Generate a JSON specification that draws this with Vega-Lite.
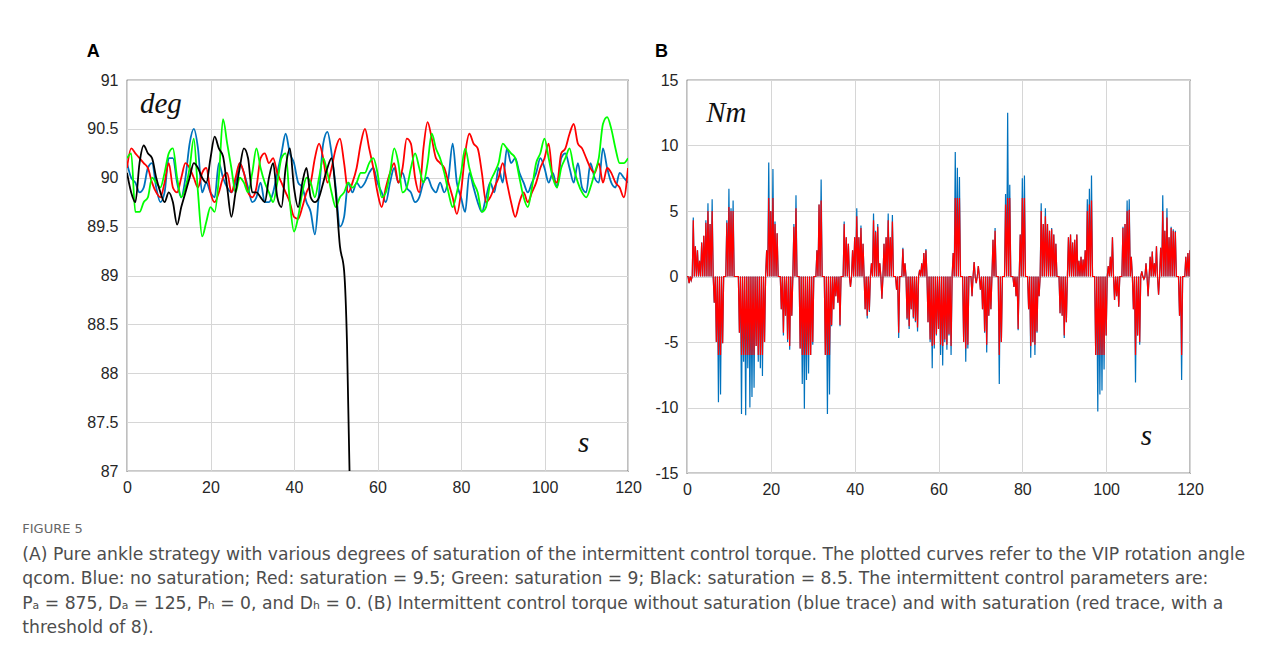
{
"$schema":"https://vega.github.io/schema/vega-lite/v6.json",
"background":"white",
"padding":{"left":22,"top":42,"right":40,"bottom":8},
"config":{
 "view":{"stroke":"#2b2b2b","strokeWidth":1.2},
 "axis":{"labelFont":"Liberation Sans","labelFontSize":16,"labelColor":"#262626","ticks":false,"domain":false,"gridColor":"#d6d6d6","gridWidth":1,"labelPadding":9,"labelFlush":false}
},
"datasets":{
"a":[
{"t":0,"blue":90.15,"red":90.1,"green":90.2,"black":90.05},
{"t":1,"blue":90.0,"red":90.3,"green":90.25,"black":89.85},
{"t":2,"blue":89.95,"red":90.25,"green":89.65,"black":89.75},
{"t":3,"blue":89.85,"red":90.2,"green":89.65,"black":90.15},
{"t":4,"blue":89.9,"red":90.15,"green":89.75,"black":90.33},
{"t":5,"blue":90.1,"red":90.1,"green":89.8,"black":90.25},
{"t":6,"blue":90.15,"red":89.95,"green":90.0,"black":90.2},
{"t":7,"blue":89.9,"red":89.85,"green":89.95,"black":90.0},
{"t":8,"blue":89.75,"red":89.8,"green":89.9,"black":89.85},
{"t":9,"blue":89.85,"red":89.95,"green":90.05,"black":89.75},
{"t":10,"blue":90.2,"red":90.15,"green":90.25,"black":89.85},
{"t":11,"blue":90.2,"red":89.9,"green":90.3,"black":89.75},
{"t":12,"blue":89.95,"red":89.85,"green":90.0,"black":89.52},
{"t":13,"blue":89.8,"red":90.0,"green":89.8,"black":89.7},
{"t":14,"blue":90.0,"red":90.15,"green":89.9,"black":89.85},
{"t":15,"blue":90.35,"red":90.1,"green":90.1,"black":90.0},
{"t":16,"blue":90.5,"red":90.0,"green":90.4,"black":90.15},
{"t":17,"blue":90.3,"red":89.9,"green":89.85,"black":90.1},
{"t":18,"blue":89.85,"red":90.05,"green":89.4,"black":90.0},
{"t":19,"blue":89.95,"red":90.1,"green":89.55,"black":89.95},
{"t":20,"blue":89.85,"red":89.85,"green":89.7,"black":90.2},
{"t":21,"blue":89.8,"red":89.75,"green":89.65,"black":90.42},
{"t":22,"blue":90.15,"red":89.85,"green":90.0,"black":90.3},
{"t":23,"blue":90.0,"red":90.0,"green":90.6,"black":90.22},
{"t":24,"blue":89.9,"red":90.05,"green":90.35,"black":89.9},
{"t":25,"blue":89.85,"red":89.85,"green":90.1,"black":89.6},
{"t":26,"blue":89.95,"red":90.0,"green":89.85,"black":89.85},
{"t":27,"blue":90.15,"red":90.15,"green":90.0,"black":90.1},
{"t":28,"blue":90.05,"red":90.05,"green":89.95,"black":90.3},
{"t":29,"blue":89.9,"red":89.85,"green":89.85,"black":90.2},
{"t":30,"blue":89.75,"red":89.8,"green":90.05,"black":89.85},
{"t":31,"blue":89.8,"red":89.9,"green":90.3,"black":89.85},
{"t":32,"blue":89.95,"red":90.2,"green":90.1,"black":89.8},
{"t":33,"blue":89.75,"red":90.25,"green":89.95,"black":89.75},
{"t":34,"blue":89.75,"red":90.15,"green":89.85,"black":90.0},
{"t":35,"blue":89.85,"red":90.2,"green":89.75,"black":90.15},
{"t":36,"blue":90.05,"red":90.05,"green":89.95,"black":89.8},
{"t":37,"blue":90.25,"red":89.95,"green":90.2,"black":89.7},
{"t":38,"blue":90.45,"red":89.85,"green":90.25,"black":90.1},
{"t":39,"blue":90.25,"red":89.75,"green":89.75,"black":90.3},
{"t":40,"blue":90.15,"red":89.6,"green":89.45,"black":89.9},
{"t":41,"blue":89.95,"red":89.58,"green":89.6,"black":89.7},
{"t":42,"blue":89.9,"red":89.7,"green":89.85,"black":89.95},
{"t":43,"blue":89.75,"red":89.85,"green":90.0,"black":90.1},
{"t":44,"blue":89.65,"red":89.95,"green":89.95,"black":89.8},
{"t":45,"blue":89.42,"red":90.2,"green":89.8,"black":89.75},
{"t":46,"blue":89.85,"red":90.35,"green":90.0,"black":89.8},
{"t":47,"blue":90.35,"red":90.2,"green":90.2,"black":89.95},
{"t":48,"blue":90.47,"red":89.95,"green":90.05,"black":90.1},
{"t":49,"blue":90.25,"red":90.1,"green":89.85,"black":90.2},
{"t":50,"blue":89.9,"red":90.3,"green":89.7,"black":89.85},
{"t":51,"blue":89.5,"red":90.4,"green":89.8,"black":89.3},
{"t":52,"blue":89.6,"red":90.15,"green":89.85,"black":89.05},
{"t":52.7,"black":88.3},
{"t":53,"blue":89.95,"red":89.85,"green":89.95},
{"t":53.3,"black":87.0},
{"t":53.6,"black":86.0},
{"t":54,"blue":89.85,"red":89.95,"green":89.9},
{"t":55,"blue":89.95,"red":90.1,"green":89.95},
{"t":56,"blue":89.9,"red":90.35,"green":90.05},
{"t":57,"blue":89.95,"red":90.5,"green":90.05},
{"t":58,"blue":90.05,"red":90.3,"green":90.15},
{"t":59,"blue":90.1,"red":90.1,"green":90.2},
{"t":60,"blue":89.95,"red":89.85,"green":90.05},
{"t":61,"blue":89.85,"red":89.7,"green":89.8},
{"t":62,"blue":89.75,"red":89.9,"green":89.85},
{"t":63,"blue":89.95,"red":90.05,"green":90.05},
{"t":64,"blue":90.1,"red":90.15,"green":90.3},
{"t":65,"blue":89.95,"red":89.95,"green":90.15},
{"t":66,"blue":90.05,"red":90.1,"green":89.85},
{"t":67,"blue":89.9,"red":90.4,"green":89.9},
{"t":68,"blue":89.85,"red":90.35,"green":90.1},
{"t":69,"blue":89.75,"red":90.0,"green":90.25},
{"t":70,"blue":89.8,"red":89.85,"green":90.1},
{"t":71,"blue":89.95,"red":90.3,"green":89.95},
{"t":72,"blue":90.0,"red":90.57,"green":90.15},
{"t":73,"blue":89.9,"red":90.4,"green":90.45},
{"t":74,"blue":89.85,"red":90.2,"green":90.3},
{"t":75,"blue":89.95,"red":90.15,"green":90.2},
{"t":76,"blue":89.85,"red":90.1,"green":90.05},
{"t":77,"blue":90.0,"red":89.95,"green":89.85},
{"t":78,"blue":90.35,"red":89.8,"green":89.7},
{"t":79,"blue":89.95,"red":89.63,"green":89.85},
{"t":80,"blue":89.8,"red":89.85,"green":90.05},
{"t":81,"blue":89.65,"red":90.25,"green":90.3},
{"t":82,"blue":90.05,"red":90.45,"green":90.1},
{"t":83,"blue":89.9,"red":90.35,"green":89.95},
{"t":84,"blue":89.75,"red":90.3,"green":89.85},
{"t":85,"blue":89.65,"red":90.05,"green":89.65},
{"t":86,"blue":89.8,"red":89.75,"green":89.7},
{"t":87,"blue":89.95,"red":89.8,"green":89.95},
{"t":88,"blue":89.85,"red":89.9,"green":90.05},
{"t":89,"blue":90.1,"red":90.0,"green":90.15},
{"t":90,"blue":89.95,"red":90.15,"green":90.35},
{"t":91,"blue":90.3,"red":89.95,"green":90.3},
{"t":92,"blue":90.15,"red":89.75,"green":90.25},
{"t":93,"blue":90.2,"red":89.6,"green":90.2},
{"t":94,"blue":90.05,"red":89.75,"green":90.0},
{"t":95,"blue":89.95,"red":89.85,"green":89.8},
{"t":96,"blue":89.85,"red":89.75,"green":89.7},
{"t":97,"blue":89.95,"red":89.85,"green":89.9},
{"t":98,"blue":90.05,"red":89.95,"green":90.15},
{"t":99,"blue":90.2,"red":90.1,"green":90.25},
{"t":100,"blue":90.1,"red":90.2,"green":90.4},
{"t":101,"blue":89.95,"red":90.35,"green":90.2},
{"t":102,"blue":90.05,"red":90.0,"green":90.0},
{"t":103,"blue":89.9,"red":89.95,"green":89.9},
{"t":104,"blue":90.2,"red":90.25,"green":90.1},
{"t":105,"blue":90.25,"red":90.3,"green":90.2},
{"t":106,"blue":90.1,"red":90.45,"green":90.3},
{"t":107,"blue":89.95,"red":90.55,"green":90.1},
{"t":108,"blue":90.15,"red":90.35,"green":89.95},
{"t":109,"blue":89.9,"red":90.3,"green":89.85},
{"t":110,"blue":89.85,"red":90.2,"green":89.8},
{"t":111,"blue":90.15,"red":90.1,"green":89.9},
{"t":112,"blue":90.0,"red":90.05,"green":90.05},
{"t":113,"blue":89.95,"red":90.15,"green":90.2},
{"t":114,"blue":90.3,"red":89.95,"green":90.55},
{"t":115,"blue":90.1,"red":90.1,"green":90.62},
{"t":116,"blue":89.95,"red":90.05,"green":90.5},
{"t":117,"blue":89.9,"red":89.95,"green":90.3},
{"t":118,"blue":90.05,"red":89.9,"green":90.15},
{"t":119,"blue":90.0,"red":89.8,"green":90.15},
{"t":120,"blue":89.95,"red":90.1,"green":90.2}
],
"b":[
{"t":0,"b":0,"r":0},{"t":0.25,"b":0,"r":0},
{"t":0.5,"b":-0.5,"r":-0.5},{"t":0.75,"b":0,"r":0},
{"t":1,"b":-0.3,"r":-0.3},{"t":1.25,"b":0,"r":0},
{"t":1.5,"b":4.5,"r":4.3},{"t":1.75,"b":0,"r":0},
{"t":2,"b":2.3,"r":2.3},{"t":2.25,"b":0,"r":0},
{"t":2.5,"b":2,"r":2},{"t":2.75,"b":0,"r":0},
{"t":3,"b":1.2,"r":1.2},{"t":3.25,"b":0,"r":0},
{"t":3.5,"b":2.6,"r":2.6},{"t":3.75,"b":0,"r":0},
{"t":4,"b":3.1,"r":3.1},{"t":4.25,"b":0,"r":0},
{"t":4.5,"b":4.3,"r":4.1},{"t":4.75,"b":0,"r":0},
{"t":5,"b":5.6,"r":5},{"t":5.25,"b":0,"r":0},
{"t":5.5,"b":4,"r":4},{"t":5.75,"b":0,"r":0},
{"t":6,"b":5.9,"r":5},{"t":6.25,"b":0,"r":0},
{"t":6.5,"b":-2,"r":-2},{"t":6.75,"b":0,"r":0},
{"t":7,"b":-5,"r":-5},{"t":7.25,"b":0,"r":0},
{"t":7.5,"b":-9.6,"r":-6},{"t":7.75,"b":0,"r":0},
{"t":8,"b":-9,"r":-6},{"t":8.25,"b":0,"r":0},
{"t":8.5,"b":-5.1,"r":-5.1},{"t":8.75,"b":0,"r":0},
{"t":9,"b":0,"r":0},{"t":9.25,"b":0,"r":0},
{"t":9.5,"b":4.3,"r":4.1},{"t":9.75,"b":0,"r":0},
{"t":10,"b":6.7,"r":5.3},{"t":10.25,"b":0,"r":0},
{"t":10.5,"b":5.2,"r":5},{"t":10.75,"b":0,"r":0},
{"t":11,"b":5.8,"r":5},{"t":11.25,"b":0,"r":0},
{"t":11.5,"b":0,"r":0},
{"t":12,"b":0,"r":0},{"t":12.25,"b":0,"r":0},
{"t":12.5,"b":-4.3,"r":-4.3},{"t":12.75,"b":0,"r":0},
{"t":13,"b":-10.5,"r":-6},{"t":13.25,"b":0,"r":0},
{"t":13.5,"b":-6.5,"r":-6},{"t":13.75,"b":0,"r":0},
{"t":14,"b":-10.6,"r":-6},{"t":14.25,"b":0,"r":0},
{"t":14.5,"b":-7,"r":-6},{"t":14.75,"b":0,"r":0},
{"t":15,"b":-10,"r":-6},{"t":15.25,"b":0,"r":0},
{"t":15.5,"b":-9.2,"r":-6},{"t":15.75,"b":0,"r":0},
{"t":16,"b":-8.5,"r":-6},{"t":16.25,"b":0,"r":0},
{"t":16.5,"b":-5.3,"r":-5.3},{"t":16.75,"b":0,"r":0},
{"t":17,"b":-6.5,"r":-6},{"t":17.25,"b":0,"r":0},
{"t":17.5,"b":-7,"r":-6},{"t":17.75,"b":0,"r":0},
{"t":18,"b":-7.6,"r":-6},{"t":18.25,"b":0,"r":0},
{"t":18.5,"b":-5,"r":-5},{"t":18.75,"b":0,"r":0},
{"t":19,"b":2,"r":2},{"t":19.25,"b":0,"r":0},
{"t":19.5,"b":8.7,"r":6},{"t":19.75,"b":0,"r":0},
{"t":20,"b":5,"r":5},{"t":20.25,"b":0,"r":0},
{"t":20.5,"b":8.2,"r":6},{"t":20.75,"b":0,"r":0},
{"t":21,"b":4.2,"r":4},{"t":21.25,"b":0,"r":0},
{"t":21.5,"b":3.3,"r":3.3},{"t":21.75,"b":0,"r":0},
{"t":22,"b":0,"r":0},{"t":22.25,"b":0,"r":0},
{"t":22.5,"b":-2.5,"r":-2.5},{"t":22.75,"b":0,"r":0},
{"t":23,"b":-4.5,"r":-4.3},{"t":23.25,"b":0,"r":0},
{"t":23.5,"b":-3,"r":-3},{"t":23.75,"b":0,"r":0},
{"t":24,"b":-5,"r":-4.8},{"t":24.25,"b":0,"r":0},
{"t":24.5,"b":-5.6,"r":-5.3},{"t":24.75,"b":0,"r":0},
{"t":25,"b":-3,"r":-3},{"t":25.25,"b":0,"r":0},
{"t":25.5,"b":4,"r":3.8},{"t":25.75,"b":0,"r":0},
{"t":26,"b":6.2,"r":5.2},{"t":26.25,"b":0,"r":0},
{"t":26.5,"b":0,"r":0},{"t":26.75,"b":0,"r":0},
{"t":27,"b":-5.5,"r":-5.5},{"t":27.25,"b":0,"r":0},
{"t":27.5,"b":-8.2,"r":-6},{"t":27.75,"b":0,"r":0},
{"t":28,"b":-10.1,"r":-6},{"t":28.25,"b":0,"r":0},
{"t":28.5,"b":-7.9,"r":-6},{"t":28.75,"b":0,"r":0},
{"t":29,"b":-7.4,"r":-6},{"t":29.25,"b":0,"r":0},
{"t":29.5,"b":-6,"r":-6},{"t":29.75,"b":0,"r":0},
{"t":30,"b":-5.2,"r":-5},{"t":30.25,"b":0,"r":0},
{"t":30.5,"b":0,"r":0},{"t":30.75,"b":0,"r":0},
{"t":31,"b":2,"r":2},{"t":31.25,"b":0,"r":0},
{"t":31.5,"b":5.5,"r":5.5},{"t":31.75,"b":0,"r":0},
{"t":32,"b":7.4,"r":5.8},{"t":32.25,"b":0,"r":0},
{"t":32.5,"b":0,"r":0},{"t":32.75,"b":0,"r":0},
{"t":33,"b":-6,"r":-6},{"t":33.25,"b":0,"r":0},
{"t":33.5,"b":-10.5,"r":-6},{"t":33.75,"b":0,"r":0},
{"t":34,"b":-9,"r":-6},{"t":34.25,"b":0,"r":0},
{"t":34.5,"b":-3.8,"r":-3.7},{"t":34.75,"b":0,"r":0},
{"t":35,"b":-2.5,"r":-2.5},{"t":35.25,"b":0,"r":0},
{"t":35.5,"b":-1.5,"r":-1.5},{"t":35.75,"b":0,"r":0},
{"t":36,"b":-2,"r":-2},{"t":36.25,"b":0,"r":0},
{"t":36.5,"b":-3.8,"r":-3.7},{"t":36.75,"b":0,"r":0},
{"t":37,"b":0,"r":0},{"t":37.25,"b":0,"r":0},
{"t":37.5,"b":4.2,"r":4},{"t":37.75,"b":0,"r":0},
{"t":38,"b":3,"r":3},{"t":38.25,"b":0,"r":0},
{"t":38.5,"b":2.5,"r":2.5},{"t":38.75,"b":0,"r":0},
{"t":39,"b":-0.8,"r":-0.8},{"t":39.25,"b":0,"r":0},
{"t":39.5,"b":2,"r":2},{"t":39.75,"b":0,"r":0},
{"t":40,"b":3,"r":3},{"t":40.25,"b":0,"r":0},
{"t":40.5,"b":5.2,"r":4.6},{"t":40.75,"b":0,"r":0},
{"t":41,"b":3,"r":3},{"t":41.25,"b":0,"r":0},
{"t":41.5,"b":3.9,"r":3.7},{"t":41.75,"b":0,"r":0},
{"t":42,"b":2.5,"r":2.5},{"t":42.25,"b":0,"r":0},
{"t":42.5,"b":-2.5,"r":-2.5},{"t":42.75,"b":0,"r":0},
{"t":43,"b":-3.2,"r":-3},{"t":43.25,"b":0,"r":0},
{"t":43.5,"b":-2.7,"r":-2.6},{"t":43.75,"b":0,"r":0},
{"t":44,"b":1,"r":1},{"t":44.25,"b":0,"r":0},
{"t":44.5,"b":4.8,"r":4.3},{"t":44.75,"b":0,"r":0},
{"t":45,"b":3.5,"r":3.4},{"t":45.25,"b":0,"r":0},
{"t":45.5,"b":4,"r":3.8},{"t":45.75,"b":0,"r":0},
{"t":46,"b":1,"r":1},{"t":46.25,"b":0,"r":0},
{"t":46.5,"b":-1.7,"r":-1.7},{"t":46.75,"b":0,"r":0},
{"t":47,"b":2.5,"r":2.5},{"t":47.25,"b":0,"r":0},
{"t":47.5,"b":3,"r":3},{"t":47.75,"b":0,"r":0},
{"t":48,"b":4.8,"r":4.3},{"t":48.25,"b":0,"r":0},
{"t":48.5,"b":3,"r":3},{"t":48.75,"b":0,"r":0},
{"t":49,"b":4.7,"r":4.2},{"t":49.25,"b":0,"r":0},
{"t":49.5,"b":0,"r":0},{"t":49.75,"b":0,"r":0},
{"t":50,"b":-1,"r":-1},{"t":50.25,"b":0,"r":0},
{"t":50.5,"b":-4.7,"r":-4.3},{"t":50.75,"b":0,"r":0},
{"t":51,"b":0,"r":0},{"t":51.25,"b":0,"r":0},
{"t":51.5,"b":2.2,"r":2.1},{"t":51.75,"b":0,"r":0},
{"t":52,"b":1,"r":1},{"t":52.25,"b":0,"r":0},
{"t":52.5,"b":-3.3,"r":-3.2},{"t":52.75,"b":0,"r":0},
{"t":53,"b":-4,"r":-3.8},{"t":53.25,"b":0,"r":0},
{"t":53.5,"b":-2.5,"r":-2.5},{"t":53.75,"b":0,"r":0},
{"t":54,"b":-3.2,"r":-3.1},{"t":54.25,"b":0,"r":0},
{"t":54.5,"b":-3.5,"r":-3.4},{"t":54.75,"b":0,"r":0},
{"t":55,"b":-4.2,"r":-3.9},{"t":55.25,"b":0,"r":0},
{"t":55.5,"b":0.5,"r":0.5},{"t":55.75,"b":0,"r":0},
{"t":56,"b":1,"r":1},{"t":56.25,"b":0,"r":0},
{"t":56.5,"b":1.8,"r":1.8},{"t":56.75,"b":0,"r":0},
{"t":57,"b":2.1,"r":2},{"t":57.25,"b":0,"r":0},
{"t":57.5,"b":-3.5,"r":-3.5},{"t":57.75,"b":0,"r":0},
{"t":58,"b":-5,"r":-4.8},{"t":58.25,"b":0,"r":0},
{"t":58.5,"b":-7,"r":-5.3},{"t":58.75,"b":0,"r":0},
{"t":59,"b":-5.5,"r":-5.2},{"t":59.25,"b":0,"r":0},
{"t":59.5,"b":-4.5,"r":-4.4},{"t":59.75,"b":0,"r":0},
{"t":60,"b":-4,"r":-4},{"t":60.25,"b":0,"r":0},
{"t":60.5,"b":-6,"r":-5.2},{"t":60.75,"b":0,"r":0},
{"t":61,"b":-6.8,"r":-5.3},{"t":61.25,"b":0,"r":0},
{"t":61.5,"b":-5,"r":-4.8},{"t":61.75,"b":0,"r":0},
{"t":62,"b":-5.6,"r":-5.2},{"t":62.25,"b":0,"r":0},
{"t":62.5,"b":-4.5,"r":-4.4},{"t":62.75,"b":0,"r":0},
{"t":63,"b":-6,"r":-5.3},{"t":63.25,"b":0,"r":0},
{"t":63.5,"b":1.8,"r":1.8},{"t":63.75,"b":0,"r":0},
{"t":64,"b":9.5,"r":6},{"t":64.25,"b":0,"r":0},
{"t":64.5,"b":8.3,"r":6},{"t":64.75,"b":0,"r":0},
{"t":65,"b":7.6,"r":6},{"t":65.25,"b":0,"r":0},
{"t":65.5,"b":0,"r":0},{"t":65.75,"b":0,"r":0},
{"t":66,"b":-5,"r":-5},{"t":66.25,"b":0,"r":0},
{"t":66.5,"b":-6.5,"r":-5.5},{"t":66.75,"b":0,"r":0},
{"t":67,"b":-5.5,"r":-5.2},{"t":67.25,"b":0,"r":0},
{"t":67.5,"b":0,"r":0},{"t":67.75,"b":0,"r":0},
{"t":68,"b":-1.5,"r":-1.5},{"t":68.25,"b":0,"r":0},
{"t":68.5,"b":1.1,"r":1.1},{"t":68.75,"b":0,"r":0},
{"t":69,"b":-0.5,"r":-0.5},{"t":69.25,"b":0,"r":0},
{"t":69.5,"b":0.8,"r":0.8},{"t":69.75,"b":0,"r":0},
{"t":70,"b":-1,"r":-1},{"t":70.25,"b":0,"r":0},
{"t":70.5,"b":-2.5,"r":-2.5},{"t":70.75,"b":0,"r":0},
{"t":71,"b":-4.3,"r":-4.2},{"t":71.25,"b":0,"r":0},
{"t":71.5,"b":-5.8,"r":-5.2},{"t":71.75,"b":0,"r":0},
{"t":72,"b":-3,"r":-3},{"t":72.25,"b":0,"r":0},
{"t":72.5,"b":-2.5,"r":-2.5},{"t":72.75,"b":0,"r":0},
{"t":73,"b":2.8,"r":2.8},{"t":73.25,"b":0,"r":0},
{"t":73.5,"b":3.7,"r":3.5},{"t":73.75,"b":0,"r":0},
{"t":74,"b":0,"r":0},{"t":74.25,"b":0,"r":0},
{"t":74.5,"b":-8.2,"r":-6},{"t":74.75,"b":0,"r":0},
{"t":75,"b":-5,"r":-5},{"t":75.25,"b":0,"r":0},
{"t":75.5,"b":0,"r":0},{"t":75.75,"b":0,"r":0},
{"t":76,"b":6.3,"r":5.5},{"t":76.25,"b":0,"r":0},
{"t":76.5,"b":12.5,"r":6},{"t":76.75,"b":0,"r":0},
{"t":77,"b":7,"r":6},{"t":77.25,"b":0,"r":0},
{"t":77.5,"b":0,"r":0},{"t":77.75,"b":0,"r":0},
{"t":78,"b":-0.8,"r":-0.8},{"t":78.25,"b":0,"r":0},
{"t":78.5,"b":-1.5,"r":-1.5},{"t":78.75,"b":0,"r":0},
{"t":79,"b":-4.1,"r":-4},{"t":79.25,"b":0,"r":0},
{"t":79.5,"b":3.2,"r":3.2},{"t":79.75,"b":0,"r":0},
{"t":80,"b":7.5,"r":6},{"t":80.25,"b":0,"r":0},
{"t":80.5,"b":7.7,"r":6},{"t":80.75,"b":0,"r":0},
{"t":81,"b":0,"r":0},{"t":81.25,"b":0,"r":0},
{"t":81.5,"b":-2.5,"r":-2.5},{"t":81.75,"b":0,"r":0},
{"t":82,"b":-6.2,"r":-5.3},{"t":82.25,"b":0,"r":0},
{"t":82.5,"b":-5,"r":-5},{"t":82.75,"b":0,"r":0},
{"t":83,"b":-6,"r":-5.2},{"t":83.25,"b":0,"r":0},
{"t":83.5,"b":-4.3,"r":-4.2},{"t":83.75,"b":0,"r":0},
{"t":84,"b":-1.5,"r":-1.5},{"t":84.25,"b":0,"r":0},
{"t":84.5,"b":5.6,"r":5},{"t":84.75,"b":0,"r":0},
{"t":85,"b":4,"r":4},{"t":85.25,"b":0,"r":0},
{"t":85.5,"b":5.2,"r":4.6},{"t":85.75,"b":0,"r":0},
{"t":86,"b":4,"r":4},{"t":86.25,"b":0,"r":0},
{"t":86.5,"b":3.5,"r":3.5},{"t":86.75,"b":0,"r":0},
{"t":87,"b":3.7,"r":3.6},{"t":87.25,"b":0,"r":0},
{"t":87.5,"b":3.2,"r":3.2},{"t":87.75,"b":0,"r":0},
{"t":88,"b":2.5,"r":2.5},{"t":88.25,"b":0,"r":0},
{"t":88.5,"b":0,"r":0},{"t":88.75,"b":0,"r":0},
{"t":89,"b":-2.8,"r":-2.8},{"t":89.25,"b":0,"r":0},
{"t":89.5,"b":-3,"r":-3},{"t":89.75,"b":0,"r":0},
{"t":90,"b":-4.7,"r":-4.5},{"t":90.25,"b":0,"r":0},
{"t":90.5,"b":-3.5,"r":-3.5},{"t":90.75,"b":0,"r":0},
{"t":91,"b":3,"r":3},{"t":91.25,"b":0,"r":0},
{"t":91.5,"b":3.2,"r":3.2},{"t":91.75,"b":0,"r":0},
{"t":92,"b":2.6,"r":2.6},{"t":92.25,"b":0,"r":0},
{"t":92.5,"b":2.8,"r":2.8},{"t":92.75,"b":0,"r":0},
{"t":93,"b":3.2,"r":3.2},{"t":93.25,"b":0,"r":0},
{"t":93.5,"b":1.2,"r":1.2},{"t":93.75,"b":0,"r":0},
{"t":94,"b":1.5,"r":1.5},{"t":94.25,"b":0,"r":0},
{"t":94.5,"b":1.3,"r":1.3},{"t":94.75,"b":0,"r":0},
{"t":95,"b":2,"r":2},{"t":95.25,"b":0,"r":0},
{"t":95.5,"b":5.9,"r":5},{"t":95.75,"b":0,"r":0},
{"t":96,"b":6.7,"r":5.5},{"t":96.25,"b":0,"r":0},
{"t":96.5,"b":7.7,"r":5.8},{"t":96.75,"b":0,"r":0},
{"t":97,"b":0,"r":0},{"t":97.25,"b":0,"r":0},
{"t":97.5,"b":-6,"r":-6},{"t":97.75,"b":0,"r":0},
{"t":98,"b":-10.3,"r":-6},{"t":98.25,"b":0,"r":0},
{"t":98.5,"b":-9,"r":-6},{"t":98.75,"b":0,"r":0},
{"t":99,"b":-8.7,"r":-6},{"t":99.25,"b":0,"r":0},
{"t":99.5,"b":-7.1,"r":-6},{"t":99.75,"b":0,"r":0},
{"t":100,"b":-4.5,"r":-4.5},{"t":100.25,"b":0,"r":0},
{"t":100.5,"b":0.8,"r":0.8},{"t":100.75,"b":0,"r":0},
{"t":101,"b":1.5,"r":1.5},{"t":101.25,"b":0,"r":0},
{"t":101.5,"b":3,"r":3},{"t":101.75,"b":0,"r":0},
{"t":102,"b":-1.8,"r":-1.8},{"t":102.25,"b":0,"r":0},
{"t":102.5,"b":-1.5,"r":-1.5},{"t":102.75,"b":0,"r":0},
{"t":103,"b":-2.3,"r":-2.3},{"t":103.25,"b":0,"r":0},
{"t":103.5,"b":0,"r":0},{"t":103.75,"b":0,"r":0},
{"t":104,"b":3.8,"r":3.7},{"t":104.25,"b":0,"r":0},
{"t":104.5,"b":4,"r":4},{"t":104.75,"b":0,"r":0},
{"t":105,"b":5.8,"r":5},{"t":105.25,"b":0,"r":0},
{"t":105.5,"b":5.9,"r":5.1},{"t":105.75,"b":0,"r":0},
{"t":106,"b":1.5,"r":1.5},{"t":106.25,"b":0,"r":0},
{"t":106.5,"b":-2.5,"r":-2.5},{"t":106.75,"b":0,"r":0},
{"t":107,"b":-8.1,"r":-6},{"t":107.25,"b":0,"r":0},
{"t":107.5,"b":-4.5,"r":-4.5},{"t":107.75,"b":0,"r":0},
{"t":108,"b":-5.2,"r":-5},{"t":108.25,"b":0,"r":0},
{"t":108.5,"b":0.4,"r":0.4},{"t":108.75,"b":0,"r":0},
{"t":109,"b":-0.2,"r":-0.2},{"t":109.25,"b":0,"r":0},
{"t":109.5,"b":1,"r":1},{"t":109.75,"b":0,"r":0},
{"t":110,"b":-1.5,"r":-1.5},{"t":110.25,"b":0,"r":0},
{"t":110.5,"b":1.5,"r":1.5},{"t":110.75,"b":0,"r":0},
{"t":111,"b":1.9,"r":1.9},{"t":111.25,"b":0,"r":0},
{"t":111.5,"b":1,"r":1},{"t":111.75,"b":0,"r":0},
{"t":112,"b":2.3,"r":2.3},{"t":112.25,"b":0,"r":0},
{"t":112.5,"b":-1.4,"r":-1.4},{"t":112.75,"b":0,"r":0},
{"t":113,"b":2.2,"r":2.2},{"t":113.25,"b":0,"r":0},
{"t":113.5,"b":6.2,"r":5},{"t":113.75,"b":0,"r":0},
{"t":114,"b":3.5,"r":3.5},{"t":114.25,"b":0,"r":0},
{"t":114.5,"b":5.2,"r":4.5},{"t":114.75,"b":0,"r":0},
{"t":115,"b":3,"r":3},{"t":115.25,"b":0,"r":0},
{"t":115.5,"b":3.8,"r":3.7},{"t":115.75,"b":0,"r":0},
{"t":116,"b":3.6,"r":3.5},{"t":116.25,"b":0,"r":0},
{"t":116.5,"b":3.5,"r":3.4},{"t":116.75,"b":0,"r":0},
{"t":117,"b":0,"r":0},{"t":117.25,"b":0,"r":0},
{"t":117.5,"b":-3,"r":-3},{"t":117.75,"b":0,"r":0},
{"t":118,"b":-7.9,"r":-6},{"t":118.25,"b":0,"r":0},
{"t":118.5,"b":0,"r":0},{"t":118.75,"b":0,"r":0},
{"t":119,"b":1.5,"r":1.5},{"t":119.25,"b":0,"r":0},
{"t":119.5,"b":1.8,"r":1.8},{"t":119.75,"b":0,"r":0},
{"t":120,"b":2,"r":2}
]
},
"title":{
 "text":"FIGURE 5",
 "subtitle":[
  "(A) Pure ankle strategy with various degrees of saturation of the intermittent control torque. The plotted curves refer to the VIP rotation angle",
  "qcom. Blue: no saturation; Red: saturation = 9.5; Green: saturation = 9; Black: saturation = 8.5. The intermittent control parameters are:",
  "Pₐ = 875, Dₐ = 125, Pₕ = 0, and Dₕ = 0. (B) Intermittent control torque without saturation (blue trace) and with saturation (red trace, with a",
  "threshold of 8)."
 ],
 "orient":"bottom","anchor":"start","frame":"bounds","dx":-64,"offset":25,
 "font":"DejaVu Sans","fontSize":13,"fontWeight":"normal","color":"#666666",
 "subtitleFont":"DejaVu Sans","subtitleFontSize":17.2,"subtitleColor":"#4d4d4d","subtitleLineHeight":24.5,"subtitlePadding":10
},
"spacing":12,
"hconcat":[
{
 "width":501,"height":391,
 "title":{"text":"A","anchor":"start","font":"Liberation Sans","fontSize":18,"fontWeight":"bold","color":"#000","offset":-3,"baseline":"alphabetic"},
 "layer":[
  {"data":{"name":"a"},
   "transform":[{"fold":["blue","red","green","black"],"as":["s","v"]},{"filter":"isValid(datum.v)"}],
   "mark":{"type":"line","strokeWidth":1.8,"clip":true,"interpolate":"monotone"},
   "encoding":{
    "x":{"field":"t","type":"quantitative","scale":{"domain":[0,120],"nice":false,"zero":false},"axis":{"values":[0,20,40,60,80,100,120],"title":null,"labelPadding":8}},
    "y":{"field":"v","type":"quantitative","scale":{"domain":[87,91],"nice":false,"zero":false},"axis":{"values":[87,87.5,88,88.5,89,89.5,90,90.5,91],"format":"~g","title":null}},
    "color":{"field":"s","type":"nominal","scale":{"domain":["blue","red","green","black"],"range":["#0072BD","#FF0000","#00FF00","#000000"]},"legend":null}
   }},
  {"data":{"values":[{"t":8.1,"v":90.66,"lab":"deg"},{"t":109.4,"v":87.19,"lab":"s"}]},
   "mark":{"type":"text","font":"Liberation Serif","fontStyle":"italic","fontSize":29,"baseline":"alphabetic","align":"center","color":"#111"},
   "encoding":{
    "x":{"field":"t","type":"quantitative"},
    "y":{"field":"v","type":"quantitative"},
    "text":{"field":"lab"}
   }}
 ]
},
{
 "width":503,"height":393,
 "title":{"text":"B","anchor":"start","font":"Liberation Sans","fontSize":18,"fontWeight":"bold","color":"#000","offset":-3,"baseline":"alphabetic"},
 "layer":[
  {"data":{"name":"b"},
   "transform":[{"fold":["b","r"],"as":["s","v"]}],
   "mark":{"type":"line","strokeWidth":1.2,"clip":true},
   "encoding":{
    "x":{"field":"t","type":"quantitative","scale":{"domain":[0,120],"nice":false,"zero":false},"axis":{"values":[0,20,40,60,80,100,120],"title":null,"labelPadding":8}},
    "y":{"field":"v","type":"quantitative","scale":{"domain":[-15,15],"nice":false,"zero":false},"axis":{"values":[-15,-10,-5,0,5,10,15],"labelExpr":"datum.value < 0 ? '-' + abs(datum.value) : '' + datum.value","title":null}},
    "color":{"field":"s","type":"nominal","scale":{"domain":["b","r"],"range":["#0072BD","#FF0000"]},"legend":null}
   }},
  {"data":{"values":[{"t":9.4,"v":11.8,"lab":"Nm"},{"t":109.6,"v":-12.86,"lab":"s"}]},
   "mark":{"type":"text","font":"Liberation Serif","fontStyle":"italic","fontSize":29,"baseline":"alphabetic","align":"center","color":"#111"},
   "encoding":{
    "x":{"field":"t","type":"quantitative"},
    "y":{"field":"v","type":"quantitative"},
    "text":{"field":"lab"}
   }}
 ]
}
]
}
